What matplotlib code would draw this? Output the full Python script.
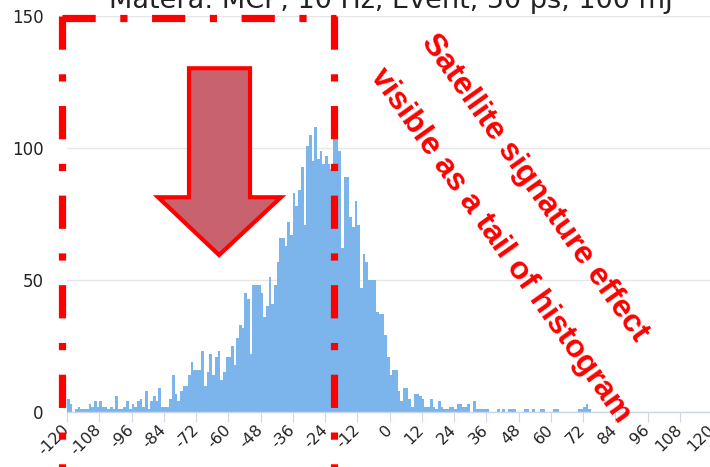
import matplotlib
matplotlib.use("Agg")
import matplotlib.pyplot as plt
from matplotlib.patches import Polygon
import numpy as np

# histogram counts, 1 ps bins starting at -120 ps
counts = [5, 3, 0, 1, 2, 1, 1, 1, 3, 2, 4, 2, 4, 2, 2, 1, 2, 1, 6, 1,
          1, 2, 4, 1, 3, 2, 4, 5, 2, 8, 1, 4, 6, 4, 9, 2, 2, 2, 5, 14,
          7, 4, 8, 10, 10, 14, 19, 16, 16, 16, 23, 10, 15, 22, 14, 21, 23, 12, 15, 21,
          21, 25, 18, 28, 33, 32, 45, 43, 22, 48, 48, 48,
          45, 36, 40, 51, 41, 48, 57, 66, 66, 63, 72, 67, 83, 78, 84, 93, 71, 101,
          105, 95, 108, 96, 99, 94, 97, 94, 92, 108,
          104, 99, 62, 89, 89, 74, 70, 80, 71, 47, 60, 57, 50, 50, 50, 38, 37, 37, 29, 21, 14,
          16, 16, 8, 4, 9, 9, 5, 2, 7, 7, 6, 5, 2, 2, 5, 2, 1, 4, 2, 1,
          1, 2, 2, 1, 3, 3, 2, 2, 3, 0, 4, 1, 1, 1, 1, 1, 0, 0, 0, 1,
          0, 1, 0, 1, 1, 1, 0, 0, 0, 1, 1, 0, 1, 0, 0, 1, 1, 0, 0, 0,
          1, 1, 0, 0, 0, 0, 0, 0, 0, 1, 1, 2, 3, 1]
bin_start = -120
x_ticks = list(range(-120, 121, 12))
y_ticks = [0, 50, 100, 150]
title = "Matera: MCP, 10 Hz, Event, 50 ps, 100 mJ"
note1 = "Satellite signature effect"
note2 = "visible as a tail of histogram"

# annotation geometry (data units)
box_x = [-121.9, -20.6]
box_top = 149.3
arrow_pts = [(-74.6, 130.3), (-51.9, 130.3), (-51.9, 81.4), (-40.4, 81.4),
             (-63.4, 59.5), (-86.1, 81.4), (-74.6, 81.4)]

plt.rcParams['axes.unicode_minus'] = False
W, H = 710, 467
fig = plt.figure(figsize=(W / 100, H / 100), dpi=100)
ax = fig.add_axes([67 / W, 55 / H, 645 / W, 395.7 / H])

lefts = np.arange(len(counts)) + bin_start
ax.bar(lefts, counts, width=1, align='edge', color='#7cb5ec', linewidth=0, zorder=2)

ax.set_xlim(-120, 120)
ax.set_ylim(0, 150)
for s in ['top', 'right', 'left']:
    ax.spines[s].set_visible(False)
ax.spines['bottom'].set_color('#ccd6eb')
ax.spines['bottom'].set_linewidth(1)
ax.spines['bottom'].set_zorder(3)

ax.set_yticks(y_ticks)
ax.set_yticklabels([str(v) for v in y_ticks])
ax.tick_params(axis='y', length=0, pad=17, labelsize=12, labelcolor='#222222')
ax.yaxis.grid(True, color='#e6e6e6', linewidth=1)
ax.set_axisbelow(True)

ax.set_xticks(x_ticks)
ax.set_xticklabels([str(v) for v in x_ticks], rotation=45, ha='right',
                   va='center', rotation_mode='anchor')
ax.tick_params(axis='x', length=7.2, width=0.8, color='#ccd6eb', pad=4,
               labelsize=11.5, labelcolor='#222222')

fig.text(0.551, (H - 8) / H, title, ha='center', va='baseline', fontsize=19.5,
         color='#222222')

# dash-dot frame
dash = (0, (4.6, 3.4, 1.0, 3.4))
lw = 5.2
ax.plot([box_x[0], box_x[1] + 0.8], [box_top, box_top], color='red', lw=lw,
        linestyle=dash, clip_on=False, zorder=5)
for bx in box_x:
    ax.plot([bx, bx], [box_top + 0.8, -25], color='red', lw=lw,
            linestyle=dash, clip_on=False, zorder=5)

ax.add_patch(Polygon(arrow_pts, closed=True, facecolor='#c9626f',
                     edgecolor='red', linewidth=3, joinstyle='miter', zorder=6))

ax.text(54.1, 84.8, note1, rotation=-54.5, rotation_mode='anchor', ha='center',
        va='center', fontsize=23, fontweight='bold', color='red',
        family='Liberation Sans', zorder=7)
ax.text(41.1, 63.3, note2, rotation=-54.5, rotation_mode='anchor', ha='center',
        va='center', fontsize=23, fontweight='bold', color='red',
        family='Liberation Sans', zorder=7, clip_on=False)

fig.savefig('out.png', dpi=100)
